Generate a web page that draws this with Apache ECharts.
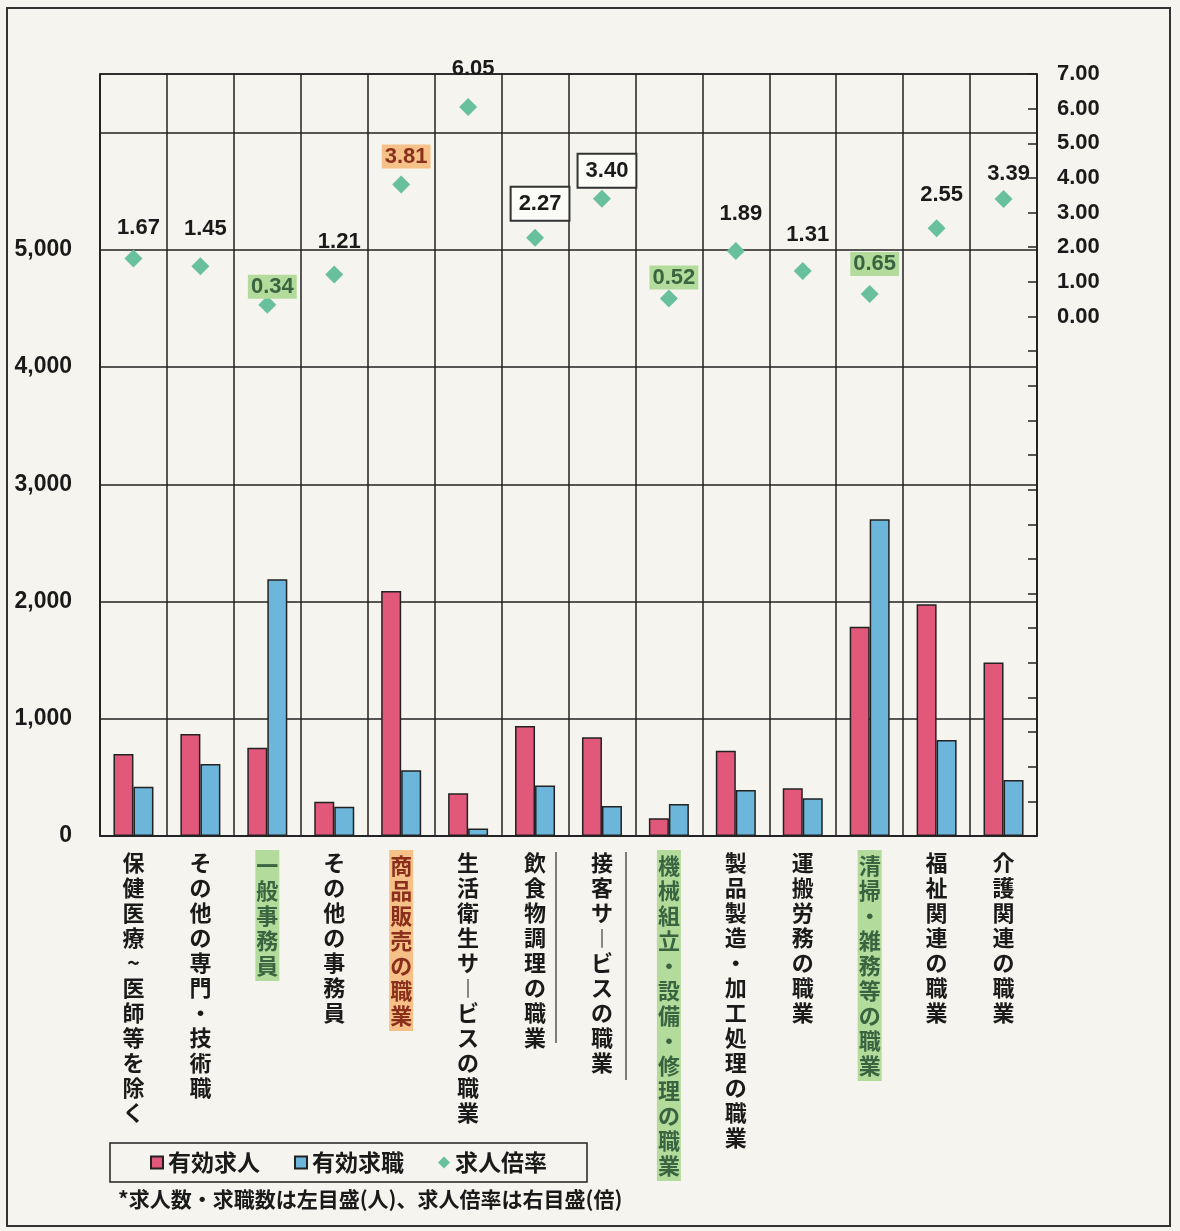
<!DOCTYPE html>
<html>
<head>
<meta charset="utf-8">
<script src="https://cdn.jsdelivr.net/npm/echarts@6/dist/echarts.min.js"></script>
<style>
  html, body { margin: 0; padding: 0; background: #f5f4ee; }
  #chart { width: 1180px; height: 1231px; }
</style>
</head>
<body>
<div id="chart"></div>
<script>
// 職業分類
const categories = [
  "保健医療~医師等を除く", "その他の専門・技術職", "一般事務員", "その他の事務員",
  "商品販売の職業", "生活衛生サービスの職業", "飲食物調理の職業", "接客サービスの職業",
  "機械組立・設備・修理の職業", "製品製造・加工処理の職業", "運搬労務の職業",
  "清掃・雑務等の職業", "福祉関連の職業", "介護関連の職業"
];
// 有効求人（人）
const jobOffers = [700, 870, 753, 293, 2090, 364, 939, 842, 151, 728, 407, 1786, 1977, 1479];
// 有効求職（人）
const jobSeekers = [420, 614, 2190, 250, 560, 65, 430, 255, 273, 392, 322, 2702, 819, 478];
// 求人倍率（倍）
const ratio = [1.67, 1.45, 0.34, 1.21, 3.81, 6.05, 2.27, 3.40, 0.52, 1.89, 1.31, 0.65, 2.55, 3.39];

const NUM_FONT = "'Liberation Sans', Arial, sans-serif";
const JP_FONT = "'Noto Sans CJK JP', sans-serif";

// ラベルの強調（マーカー）
const green = { backgroundColor: "#b3dc9c", color: "#3a6440" };
const orange = { backgroundColor: "#f6c189", color: "#8a2f1c" };
const boxed = { backgroundColor: "#fbfbf8", borderColor: "#333", borderWidth: 2, padding: [5, 7] };
const catMarks = { 2: green, 4: orange, 8: green, 11: green };
const ratioMarks = { 2: green, 4: orange, 6: boxed, 7: boxed, 8: green, 11: green };
// 倍率ラベルの上方向のずれ
const ratioLabelDy = [-31, -37, -18, -33, -28, -38, -34, -28, -21, -37, -36, -30, -33, -25];

const chart = echarts.init(document.getElementById("chart"));

const option = {
  backgroundColor: "#f5f4ee",
  animation: false,
  grid: {
    left: 100, right: 143, top: 74, bottom: 395,
    show: true, borderColor: "#222", borderWidth: 1.5,
    backgroundColor: "transparent"
  },
  legend: {
    left: 110, top: 1143,
    data: [
      { name: "有効求人", icon: "rect" },
      { name: "有効求職", icon: "rect" },
      { name: "求人倍率", icon: "diamond" }
    ],
    itemWidth: 12, itemHeight: 12, itemGap: 34,
    padding: [8, 40, 8, 40],
    borderColor: "#222", borderWidth: 1.5,
    textStyle: { fontFamily: JP_FONT, fontSize: 23, fontWeight: "bold", color: "#1a1a1a" }
  },
  xAxis: {
    type: "category",
    data: categories.map((c, i) => catMarks[i] ? { value: c, textStyle: Object.assign({ padding: [3, 1] }, catMarks[i]) } : c),
    axisLine: { lineStyle: { color: "#222", width: 1.5 } },
    axisTick: { show: false },
    splitLine: { show: true, interval: 0, lineStyle: { color: "#222", width: 1.5 } },
    axisLabel: {
      interval: 0,
      margin: 14,
      fontFamily: JP_FONT,
      fontSize: 22,
      fontWeight: "bold",
      lineHeight: 25,
      color: "#1a1a1a",
      verticalAlign: "top",
      formatter: v => v.split("").map(c => c === "ー" ? "︱" : c).join("\n")
    }
  },
  yAxis: [
    {
      type: "value", min: 0, max: 6500, interval: 1000,
      axisLine: { show: true, lineStyle: { color: "#222", width: 1.5 } },
      axisTick: { show: false },
      splitLine: { lineStyle: { color: "#222", width: 1.5 } },
      axisLabel: {
        margin: 28, fontFamily: NUM_FONT, fontSize: 23, fontWeight: "bold", color: "#1a1a1a",
        formatter: v => v <= 5000 ? v.toLocaleString("en-US") : ""
      }
    },
    {
      type: "value", min: -15, max: 7, interval: 1, position: "right",
      axisLine: { show: true, lineStyle: { color: "#222", width: 1.5 } },
      axisTick: { show: true, inside: true, length: 9, lineStyle: { color: "#222", width: 1.5 } },
      splitLine: { show: false },
      axisLabel: {
        margin: 20, fontFamily: NUM_FONT, fontSize: 22, fontWeight: "bold", color: "#1a1a1a",
        formatter: v => v >= 0 ? v.toFixed(2) : ""
      }
    }
  ],
  series: [
    {
      name: "有効求人", type: "bar", data: jobOffers,
      barWidth: 20, barGap: "0%",
      itemStyle: { color: "#e2587a", borderColor: "#222", borderWidth: 1.5 }
    },
    {
      name: "有効求職", type: "bar", data: jobSeekers,
      barWidth: 20, barGap: "0%",
      itemStyle: { color: "#6bb6da", borderColor: "#222", borderWidth: 1.5 }
    },
    {
      name: "求人倍率", type: "scatter", yAxisIndex: 1,
      symbol: "diamond", symbolSize: 18, z: 5,
      itemStyle: { color: "#68c19c", opacity: 1 },
      data: ratio.map((r, i) => ({
        value: r,
        label: Object.assign({ offset: [5, ratioLabelDy[i]] }, ratioMarks[i] || {})
      })),
      label: {
        show: true, position: "inside",
        fontFamily: NUM_FONT, fontSize: 22, fontWeight: "bold", color: "#1a1a1a",
        textBorderWidth: 0,
        padding: [1, 3],
        formatter: p => p.value.toFixed(2)
      }
    }
  ],
  graphic: [
    // 外枠
    { type: "rect", shape: { x: 7, y: 8, width: 1163, height: 1218 }, style: { fill: null, stroke: "#333", lineWidth: 2 }, silent: true },
    // ラベル脇の線
    { type: "line", shape: { x1: 556, y1: 852, x2: 556, y2: 1043 }, style: { stroke: "#555", lineWidth: 1.5 } },
    { type: "line", shape: { x1: 626, y1: 852, x2: 626, y2: 1080 }, style: { stroke: "#555", lineWidth: 1.5 } },
    // 注記
    {
      type: "text", left: 118, top: 1189,
      style: { text: "*求人数・求職数は左目盛(人)、求人倍率は右目盛(倍)", font: "bold 21px 'Noto Sans CJK JP', sans-serif", fill: "#1a1a1a" }
    }
  ]
};

chart.setOption(option);
</script>
</body>
</html>
